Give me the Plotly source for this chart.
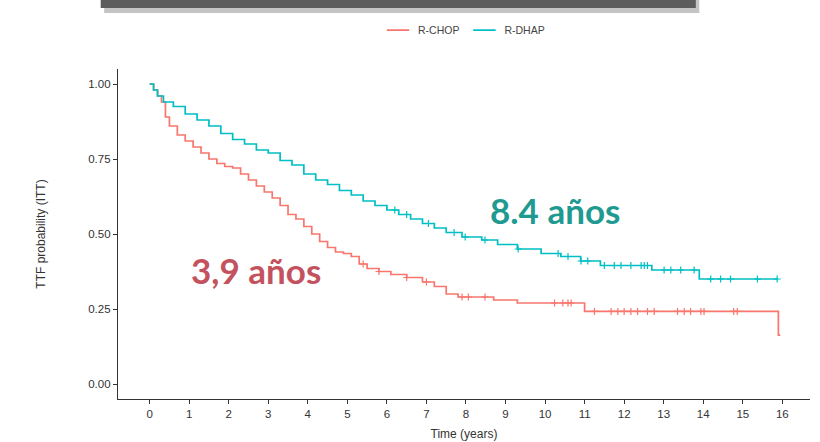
import plotly.graph_objects as go
import numpy as np

# ---------------- data ----------------
chop_time = [0, 0.1, 0.2, 0.3, 0.4, 0.5, 0.7, 0.9, 1.1, 1.3, 1.5, 1.7, 1.9, 2.1, 2.3, 2.5,
             2.7, 2.9, 3.1, 3.3, 3.5, 3.7, 3.9, 4.1, 4.3, 4.5, 4.7, 4.9, 5.1, 5.3, 5.5,
             5.8, 6.1, 6.5, 6.9, 7.2, 7.5, 7.8, 8.7, 9.3, 11.0, 15.9]
chop_surv = [1.0, 0.98, 0.96, 0.94, 0.89, 0.86, 0.83, 0.81, 0.79, 0.77, 0.75, 0.735, 0.725,
             0.72, 0.70, 0.68, 0.66, 0.64, 0.62, 0.595, 0.565, 0.55, 0.525, 0.50, 0.475,
             0.455, 0.44, 0.435, 0.425, 0.40, 0.385, 0.375, 0.365, 0.355, 0.34, 0.325,
             0.30, 0.29, 0.28, 0.27, 0.242, 0.163]
chop_end = 15.95
chop_cens = [5.4, 5.8, 6.5, 7.0, 7.9, 8.06, 8.48, 10.24, 10.45, 10.58, 10.66, 11.25, 11.67,
             11.84, 12.0, 12.17, 12.34, 12.59, 12.76, 13.35, 13.52, 13.68, 13.94, 14.02,
             14.77, 14.86]

dhap_time = [0, 0.1, 0.2, 0.35, 0.6, 0.9, 1.2, 1.5, 1.8, 2.1, 2.4, 2.7, 3.0, 3.3, 3.6, 3.9,
             4.2, 4.5, 4.8, 5.1, 5.4, 5.7, 6.0, 6.3, 6.6, 6.9, 7.2, 7.5, 7.9, 8.4, 8.8, 9.3,
             9.9, 10.4, 10.9, 11.4, 12.7, 13.9]
dhap_surv = [1.0, 0.98, 0.96, 0.94, 0.925, 0.90, 0.88, 0.86, 0.835, 0.815, 0.80, 0.78, 0.77,
             0.745, 0.73, 0.70, 0.68, 0.665, 0.645, 0.63, 0.61, 0.595, 0.58, 0.565, 0.55,
             0.535, 0.52, 0.505, 0.49, 0.48, 0.465, 0.45, 0.435, 0.425, 0.41, 0.395, 0.38,
             0.35]
dhap_end = 15.87
dhap_cens = [6.2, 6.5, 7.05, 7.7, 7.98, 8.48, 9.32, 10.33, 10.58, 10.91, 11.08, 11.5, 11.75,
             11.92, 12.17, 12.43, 12.51, 12.59, 13.01, 13.18, 13.43, 13.77, 14.19, 14.44,
             14.69, 15.37, 15.87]

x_ticks = list(range(0, 17))
y_ticks = [0.0, 0.25, 0.5, 0.75, 1.0]

RED = "#F8766D"
TEAL = "#00BFC4"


def surv_at(times, surv, t):
    idx = np.searchsorted(np.array(times), t, side="right") - 1
    return surv[max(idx, 0)]


fig = go.Figure()

for name, tt, ss, tend, cens, col in [
    ("R-CHOP", chop_time, chop_surv, chop_end, chop_cens, RED),
    ("R-DHAP", dhap_time, dhap_surv, dhap_end, dhap_cens, TEAL),
]:
    xs = list(tt) + [tend]
    ys = list(ss) + [ss[-1]]
    fig.add_trace(go.Scatter(x=xs, y=ys, mode="lines", line=dict(color=col, width=1.7, shape="hv"),
                             name=name, showlegend=False, hoverinfo="skip"))
    fig.add_trace(go.Scatter(x=cens, y=[surv_at(tt, ss, c) for c in cens], mode="markers",
                             marker=dict(symbol="cross-thin", size=5,
                                         line=dict(color=col, width=1.2)),
                             showlegend=False, hoverinfo="skip"))
    # legend entry with a short line key
    fig.add_trace(go.Scatter(x=[None], y=[None], mode="markers", name=name,
                             marker=dict(symbol="line-ew", size=16, line=dict(color=col, width=1.7)),
                             showlegend=True, hoverinfo="skip"))

fig.add_annotation(x=2.7, y=0.38, xref="x", yref="y", text="<b>3,9 años</b>", showarrow=False,
                   font=dict(family="Lato", size=35, color="#C4525E"))
fig.add_annotation(x=10.25, y=0.58, xref="x", yref="y", text="<b>8.4 años</b>", showarrow=False,
                   font=dict(family="Lato", size=35, color="#1E9A90"))

# decorative top bar (slide header remnant)
fig.add_shape(type="rect", xref="paper", yref="paper", x0=-0.02, x1=0.84, y0=1.170, y1=1.212,
              fillcolor="#c4c4c4", line=dict(width=0), layer="above")
fig.add_shape(type="rect", xref="paper", yref="paper", x0=-0.025, x1=0.835, y0=1.185, y1=1.212,
              fillcolor="#5c5c5c", line=dict(width=0), layer="above")

axis_common = dict(showgrid=False, zeroline=False, showline=True, linecolor="#333333", linewidth=1.2,
                   ticks="outside", ticklen=4, tickcolor="#333333", tickwidth=1, automargin=False,
                   tickfont=dict(family="Liberation Sans", size=11.5, color="#333333"))

fig.update_layout(
    width=820, height=442,
    margin=dict(l=118, r=10, t=69, b=43),
    paper_bgcolor="white", plot_bgcolor="white",
    xaxis=dict(range=[-0.8, 16.7], tickvals=x_ticks, ticktext=[str(v) for v in x_ticks],
               title=dict(text="Time (years)", standoff=10,
                          font=dict(family="Liberation Sans", size=12, color="#333333")),
               **axis_common),
    yaxis=dict(range=[-0.05, 1.05], tickvals=y_ticks, ticktext=[f"{v:.2f}" for v in y_ticks],
               title=dict(text="TTF probability (ITT)", standoff=40,
                          font=dict(family="Liberation Sans", size=12, color="#333333")),
               **axis_common),
    legend=dict(orientation="h", x=0.5, xanchor="center", y=1.118, yanchor="middle",
                font=dict(family="Liberation Sans", size=10.5, color="#444444"),
                itemwidth=30, tracegroupgap=0, bgcolor="rgba(0,0,0,0)"),
    showlegend=True,
)

fig.write_html("out.html")
